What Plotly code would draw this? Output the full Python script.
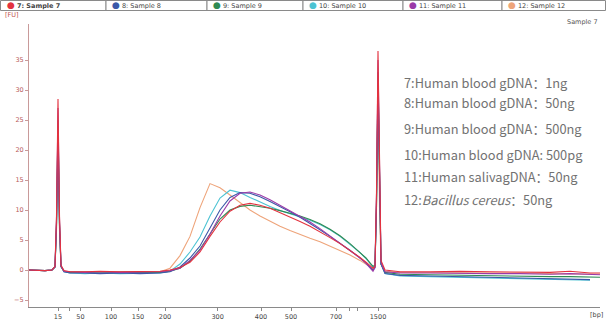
import plotly.graph_objects as go

# Migration time (s) sampling grid
time_s = [20.0, 21.6, 22.3, 22.6, 22.75, 22.9, 23.05, 23.2, 23.5, 24.1, 25.6, 27.1, 29.1, 31.1,
          33.1, 34.1, 35.1, 36.1, 37.1, 38.1, 39.1, 40.1, 41.1, 42.1, 43.1, 44.1, 45.1, 46.1,
          47.1, 48.1, 49.1, 50.1, 51.1, 52.1, 53.1, 53.7, 54.1, 54.4, 54.6, 54.75, 54.9, 55.05,
          55.2, 55.6, 57.1, 60.1, 63.1, 66.1, 69.1, 72.1, 74.1, 76.1, 77.1]

# Ladder (bp) and its migration times -> x-axis ticks
ladder_bp = [15, 25, 50, 100, 150, 200, 300, 400, 500, 700, 850, 1000, 1500]
ladder_time = [22.9, 24.05, 25.14, 28.2, 30.9, 33.6, 38.86, 43.2, 46.2, 50.7, 52.05, 52.8, 54.9]
ladder_labels = ["15", "", "50", "100", "150", "200", "300", "400", "500", "700", "", "", "1500"]

fu_7 = [0.0, -0.1, 0.0, 0.6, 9.0, 28.5, 9.0, 0.8, -0.1, -0.3, -0.3, -0.2, -0.3, -0.2, -0.2, 0.0,
        0.4, 1.3, 3.0, 5.6, 8.0, 9.8, 10.8, 11.1, 10.8, 10.3, 9.6, 8.9, 8.1, 7.3, 6.4, 5.4, 4.4,
        3.3, 2.1, 1.3, 0.7, 0.3, 0.6, 13.0, 36.5, 14.0, 1.6, 0.0, -0.3, -0.3, -0.2, -0.3, -0.3,
        -0.4, -0.2, -0.5, -0.5]
fu_8 = [0.0, -0.1, 0.0, 0.5, 7.8, 25.0, 7.8, 0.6, -0.3, -0.5, -0.5, -0.6, -0.5, -0.6, -0.5, -0.3,
        0.5, 2.0, 4.0, 7.0, 10.0, 12.1, 12.9, 12.8, 12.2, 11.4, 10.6, 9.7, 8.8, 7.8, 6.7, 5.6, 4.5,
        3.3, 2.0, 1.2, 0.5, 0.0, 0.4, 11.5, 33.0, 12.0, 1.0, -0.6, -0.9, -1.0, -1.1, -1.2, -1.3,
        -1.4, -1.5, -1.6, None]
fu_9 = [0.0, -0.1, 0.0, 0.5, 7.5, 24.0, 7.5, 0.6, -0.2, -0.4, -0.4, -0.5, -0.4, -0.4, -0.4, -0.2,
        0.3, 1.5, 3.5, 6.0, 8.5, 10.0, 10.6, 10.8, 10.6, 10.3, 9.9, 9.5, 9.0, 8.4, 7.7, 6.8, 5.7,
        4.4, 3.0, 2.0, 1.2, 0.6, 0.8, 10.5, 31.0, 11.0, 1.0, -0.4, -0.7, -0.8, -0.9, -0.9, -1.0,
        -1.1, -1.1, -1.2, -1.2]
fu_10 = [0.0, -0.1, 0.0, 0.5, 7.0, 22.0, 7.0, 0.6, -0.3, -0.5, -0.6, -0.5, -0.6, -0.5, -0.5, -0.2,
         1.0, 3.0, 5.5, 9.0, 12.0, 13.3, 12.9, 12.1, 11.3, 10.6, 9.9, 9.4, 8.9, 8.3, 7.6, 6.7, 5.6,
         4.3, 2.9, 1.9, 1.1, 0.5, 0.8, 11.0, 32.0, 11.5, 1.0, -0.6, -1.0, -1.1, -1.2, -1.3, -1.4,
         -1.5, -1.6, -1.7, None]
fu_11 = [0.0, -0.1, 0.0, 0.5, 8.5, 27.0, 8.5, 0.7, -0.2, -0.3, -0.4, -0.3, -0.4, -0.3, -0.3, -0.1,
         0.3, 1.6, 3.3, 6.0, 9.0, 11.5, 12.8, 13.0, 12.5, 11.7, 10.8, 9.9, 9.0, 8.0, 6.9, 5.7, 4.5,
         3.3, 2.0, 1.1, 0.4, -0.2, 0.4, 12.5, 35.0, 13.0, 1.2, -0.3, -0.5, -0.5, -0.6, -0.6, -0.6,
         -0.7, -0.6, -0.7, -0.8]
fu_12 = [0.0, -0.1, 0.0, 0.5, 6.5, 21.0, 6.5, 0.5, -0.2, -0.3, -0.3, -0.4, -0.3, -0.3, -0.3, 0.3,
         2.4, 5.6, 10.4, 14.4, 13.7, 12.5, 11.2, 10.0, 9.0, 8.1, 7.3, 6.6, 5.9, 5.3, 4.7, 4.0, 3.3,
         2.5, 1.6, 1.0, 0.5, 0.2, 0.5, 10.0, 30.0, 10.5, 1.0, -0.2, -0.4, -0.4, -0.5, -0.5, -0.5,
         -0.6, -0.6, -0.6, -0.7]

sample_names = ["7: Sample 7", "8: Sample 8", "9: Sample 9", "10: Sample 10", "11: Sample 11", "12: Sample 12"]
sample_colors = ["#e3323f", "#3b58a8", "#2f8a52", "#4cc3d3", "#9a3aa8", "#eea47a"]
sample_desc = ["7:Human blood gDNA：1ng", "8:Human blood gDNA：50ng", "9:Human blood gDNA：500ng",
               "10:Human blood gDNA: 500pg", "11:Human salivagDNA：50ng",
               "12:<i>Bacillus cereus</i>：50ng"]

series = [fu_7, fu_8, fu_9, fu_10, fu_11, fu_12]

W, H = 606, 324
L, R, T, B = 29, 600, 24, 307      # plot area in pixels
PW, PH = R - L, B - T

def px(x):
    return (x - L) / PW

def py(y):
    return (B - y) / PH

fig = go.Figure()
draw_order = [5, 3, 2, 1, 4, 0]
for i in draw_order:
    fig.add_trace(go.Scatter(x=time_s, y=series[i], mode="lines", name=sample_names[i],
                             line=dict(color=sample_colors[i], width=1.1),
                             showlegend=False, hoverinfo="skip", connectgaps=False))

shapes = []
annotations = []
box_edges = [0.5, 106, 207, 303, 403, 502, 605.5]
for k in range(6):
    x0, x1 = box_edges[k], box_edges[k + 1]
    shapes.append(dict(type="rect", xref="paper", yref="paper", x0=px(x0), x1=px(x1),
                       y0=py(10.5), y1=py(0.5), line=dict(color="#8a8a8a", width=1),
                       fillcolor="white", layer="above"))
    txt = sample_names[k]
    if k == 0:
        txt = "<b>" + txt + "</b>"
    annotations.append(dict(xref="paper", yref="paper", x=px(x0 + 4), y=py(5.5),
                            xanchor="left", yanchor="middle", showarrow=False,
                            text="<span style='color:%s;font-size:9px'>●</span> %s" % (sample_colors[k], txt),
                            font=dict(family="DejaVu Sans", size=6.5, color="#444444")))

annotations.append(dict(xref="paper", yref="paper", x=px(3), y=py(15), xanchor="left",
                        yanchor="middle", showarrow=False, text="[FU]",
                        font=dict(family="DejaVu Sans", size=6.5, color="#c0504d")))
annotations.append(dict(xref="paper", yref="paper", x=px(600), y=py(22), xanchor="right",
                        yanchor="middle", showarrow=False, text="Sample 7",
                        font=dict(family="DejaVu Sans", size=6.5, color="#555555")))
annotations.append(dict(xref="paper", yref="paper", x=px(605), y=py(315), xanchor="right",
                        yanchor="middle", showarrow=False, text="[bp]",
                        font=dict(family="DejaVu Sans", size=6.5, color="#444444")))

desc_y = [82, 102.7, 128.3, 154.3, 176, 199.3]
for j, d in enumerate(sample_desc):
    annotations.append(dict(xref="paper", yref="paper", x=px(402), y=py(desc_y[j]),
                            xanchor="left", yanchor="middle", showarrow=False, text=d,
                            font=dict(family="Noto Sans CJK SC", size=12.8, color="#727272")))

fig.update_layout(
    width=W, height=H,
    margin=dict(l=L, r=W - R, t=T, b=H - B, pad=0, autoexpand=False),
    paper_bgcolor="white", plot_bgcolor="white",
    showlegend=False,
    shapes=shapes, annotations=annotations,
    xaxis=dict(range=[20.0, 77.1], showgrid=False, zeroline=False, showline=True,
               automargin=False,
               linecolor="#8a8a8a", linewidth=1, ticks="outside", ticklen=3,
               tickcolor="#8a8a8a", tickvals=ladder_time, ticktext=ladder_labels,
               tickfont=dict(family="DejaVu Sans", size=6.5, color="#444444")),
    yaxis=dict(range=[-6.1667, 41.0], showgrid=False, zeroline=False, showline=True,
               automargin=False,
               linecolor="#c99a9a", linewidth=1, ticks="outside", ticklen=3,
               tickcolor="#c99a9a", tickvals=[-5, 0, 5, 10, 15, 20, 25, 30, 35],
               tickfont=dict(family="DejaVu Sans", size=6.5, color="#b85a5a")),
)

fig.write_html("out.html", config={"displayModeBar": False},
               post_script="document.body.style.margin='0px';document.body.style.overflow='hidden';")
